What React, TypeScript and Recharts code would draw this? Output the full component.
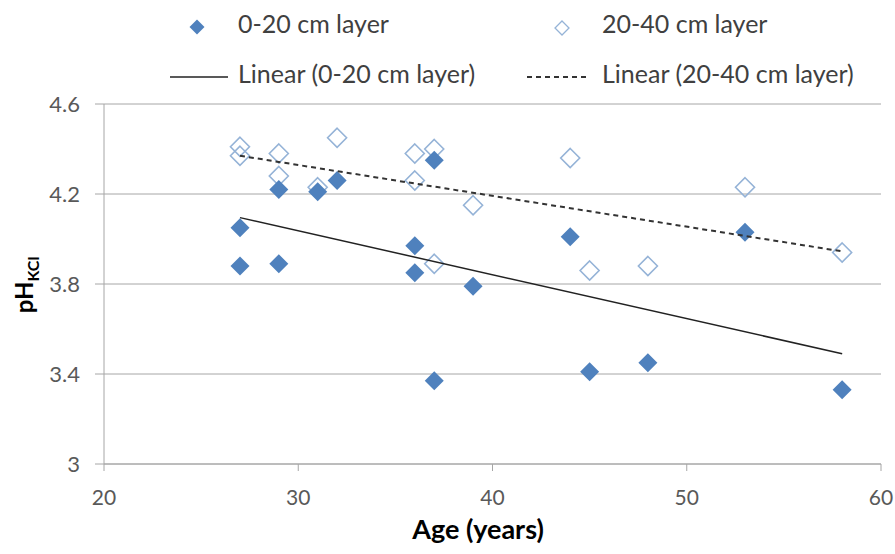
import React from 'react';
import { ScatterChart, Scatter, XAxis, YAxis, CartesianGrid, Label } from 'recharts';

const ages = [27, 27, 29, 29, 31, 32, 36, 36, 37, 37, 39, 44, 45, 48, 53, 58];
const phTopLayer = [4.05, 3.88, 4.22, 3.89, 4.21, 4.26, 3.97, 3.85, 4.35, 3.37, 3.79, 4.01, 3.41, 3.45, 4.03, 3.33];
const phSubLayer = [4.41, 4.37, 4.38, 4.28, 4.23, 4.45, 4.38, 4.26, 4.4, 3.89, 4.15, 4.36, 3.86, 3.88, 4.23, 3.94];
const trendAges = [27, 58];
const trendTopLayer = [4.095, 3.49];
const trendSubLayer = [4.37, 3.945];
const xTicks = [20, 30, 40, 50, 60];
const yTicks = [3, 3.4, 3.8, 4.2, 4.6];
const seriesNames = ['0-20 cm layer', '20-40 cm layer'];

const topData = ages.map((age, i) => ({ age, ph: phTopLayer[i] }));
const subData = ages.map((age, i) => ({ age, ph: phSubLayer[i] }));
const topTrend = trendAges.map((age, i) => ({ age, ph: trendTopLayer[i] }));
const subTrend = trendAges.map((age, i) => ({ age, ph: trendSubLayer[i] }));

const FONT = 'Lato, "Noto Sans", sans-serif';
const BLUE = '#4F81BD';
const LIGHT_BLUE = '#95B3D7';
const GRID = '#A6A6A6';

const diamondPath = (cx: number, cy: number, r: number) =>
  `M${cx},${cy - r}L${cx + r},${cy}L${cx},${cy + r}L${cx - r},${cy}Z`;

const FilledDiamond = (props: any) => <path d={diamondPath(props.cx, props.cy, 9.5)} fill={BLUE} />;
const OpenDiamond = (props: any) => (
  <path d={diamondPath(props.cx, props.cy, 9.5)} fill="none" stroke={LIGHT_BLUE} strokeWidth={1.6} />
);
const NoDot = () => <g />;

const XTitle = () => (
  <text x={478} y={539} textAnchor="middle" fontSize={27} fontWeight="bold" fontFamily={FONT} fill="#000">
    Age (years)
  </text>
);

const YTitle = () => (
  <text transform="translate(33, 285) rotate(-90)" textAnchor="middle" fontSize={24} fontWeight="bold" fontFamily={FONT} fill="#000">
    pH<tspan fontSize={16} dy={6}>KCl</tspan>
  </text>
);

function ChartLegend() {
  return (
    <svg width={895} height={100} style={{ position: 'absolute', left: 0, top: 0 }}>
      <g fontFamily={FONT} fontSize={25} fill="#404040">
        <path d={diamondPath(197, 27, 7.5)} fill={BLUE} />
        <text x={238} y={33}>{seriesNames[0]}</text>
        <path d={diamondPath(562, 28, 7)} fill="none" stroke={LIGHT_BLUE} strokeWidth={1.3} />
        <text x={602} y={33}>{seriesNames[1]}</text>
        <line x1={170} x2={228} y1={77} y2={77} stroke="#222" strokeWidth={1.5} />
        <text x={238} y={83}>{`Linear (${seriesNames[0]})`}</text>
        <line x1={527} x2={588} y1={77} y2={77} stroke="#333" strokeWidth={2} strokeDasharray="5 4" />
        <text x={602} y={83}>{`Linear (${seriesNames[1]})`}</text>
      </g>
    </svg>
  );
}

export default function App() {
  return (
    <div style={{ position: 'absolute', left: 0, top: 0, width: 895, height: 554, background: '#fff', fontFamily: FONT }}>
      <ScatterChart width={895} height={554} margin={{ top: 104, right: 14, bottom: 40, left: 0 }}>
        <CartesianGrid vertical={false} stroke={GRID} />
        <XAxis
          type="number"
          dataKey="age"
          domain={[20, 60]}
          ticks={xTicks}
          height={50}
          tickSize={7}
          tickMargin={19}
          stroke={GRID}
          tick={{ fill: '#595959', fontSize: 21, fontFamily: FONT }}
        >
          <Label content={XTitle} />
        </XAxis>
        <YAxis
          type="number"
          dataKey="ph"
          domain={[3, 4.6]}
          ticks={yTicks}
          width={104}
          tickSize={9}
          tickMargin={15}
          stroke={GRID}
          tick={{ fill: '#595959', fontSize: 22, fontFamily: FONT }}
        >
          <Label content={YTitle} />
        </YAxis>
        <Scatter name={seriesNames[1]} data={subData} shape={OpenDiamond} isAnimationActive={false} />
        <Scatter name={seriesNames[0]} data={topData} shape={FilledDiamond} isAnimationActive={false} />
        <Scatter
          name={`Linear (${seriesNames[0]})`}
          data={topTrend}
          shape={NoDot}
          line={{ stroke: '#222', strokeWidth: 1.5 }}
          isAnimationActive={false}
        />
        <Scatter
          name={`Linear (${seriesNames[1]})`}
          data={subTrend}
          shape={NoDot}
          line={{ stroke: '#333', strokeWidth: 2, strokeDasharray: '5 4' }}
          isAnimationActive={false}
        />
      </ScatterChart>
      <ChartLegend />
    </div>
  );
}
